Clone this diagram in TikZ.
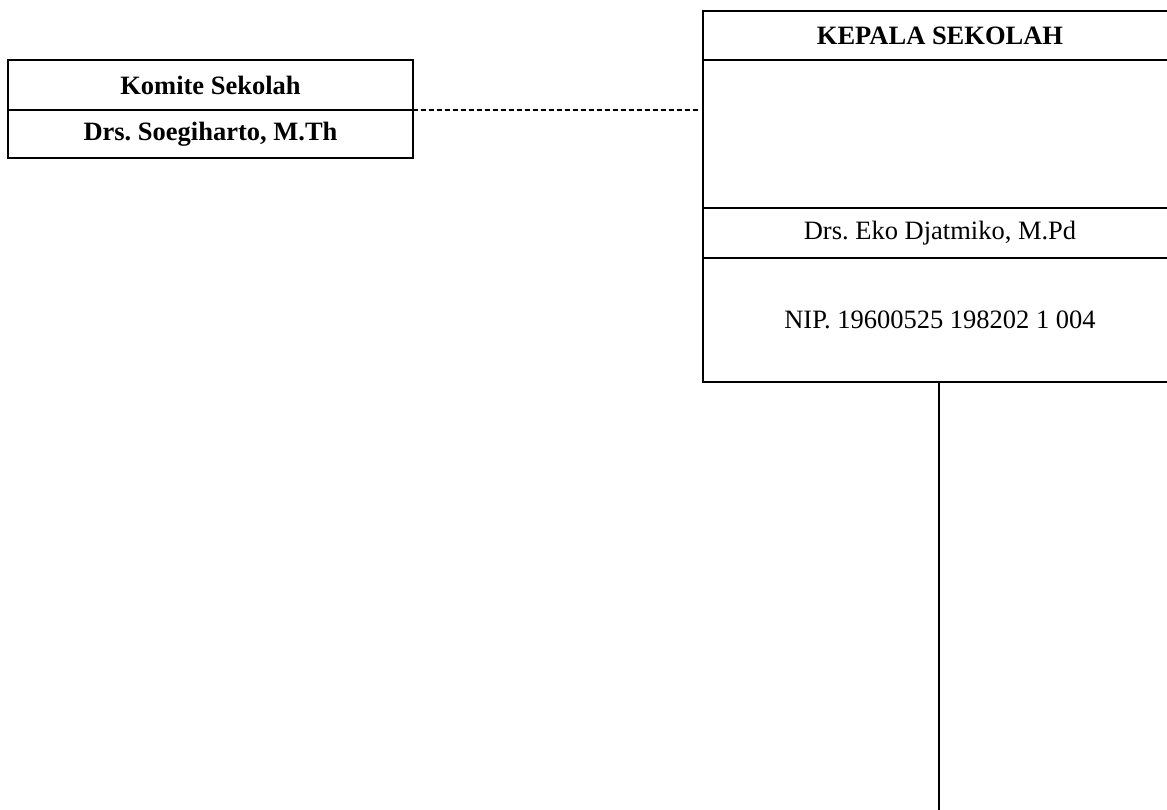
\documentclass[tikz,border=0pt]{standalone}
\usepackage{fontspec}
\setmainfont{Liberation Serif}
\frenchspacing
\begin{document}
\begin{tikzpicture}[x=1pt,y=-1pt,
  cell/.style={draw,line width=2pt,rectangle,inner sep=0pt,outer sep=0pt,
    font=\fontsize{26.5}{30}\selectfont\frenchspacing, align=center},
  leftcell/.style={cell,minimum width=405pt},
  rightcell/.style={cell,minimum width=474pt},
  link/.style={line width=1.5pt,dash pattern=on 5pt off 3pt},
  trunk/.style={line width=2pt}]
\useasboundingbox (0,0) rectangle (1167,810);
% left box
\node[leftcell,minimum height=50pt] (komite) at (210.5,85) {\textbf{Komite Sekolah}};
\node[leftcell,minimum height=48pt] (komname) at (210.5,134) {\textbf{Drs. Soegiharto, M.Th}};
% right box
\node[rightcell,minimum height=49pt] (title) at (940,35.5) {\textbf{KEPALA SEKOLAH}};
\node[rightcell,minimum height=148pt] (blank) at (940,134) {};
\node[rightcell,minimum height=50pt] (kname) at (940,233) {Drs. Eko Djatmiko, M.Pd};
\node[rightcell,minimum height=124pt] (nip) at (940,320) {NIP. 19600525 198202 1 004};
% connectors
\draw[link,shorten >=5pt] (komite.south east) -- (blank.west |- komite.south east);
\coordinate (bottomend) at (939,812);
\draw[trunk] (nip.south -| bottomend) -- (bottomend);
\end{tikzpicture}
\end{document}
